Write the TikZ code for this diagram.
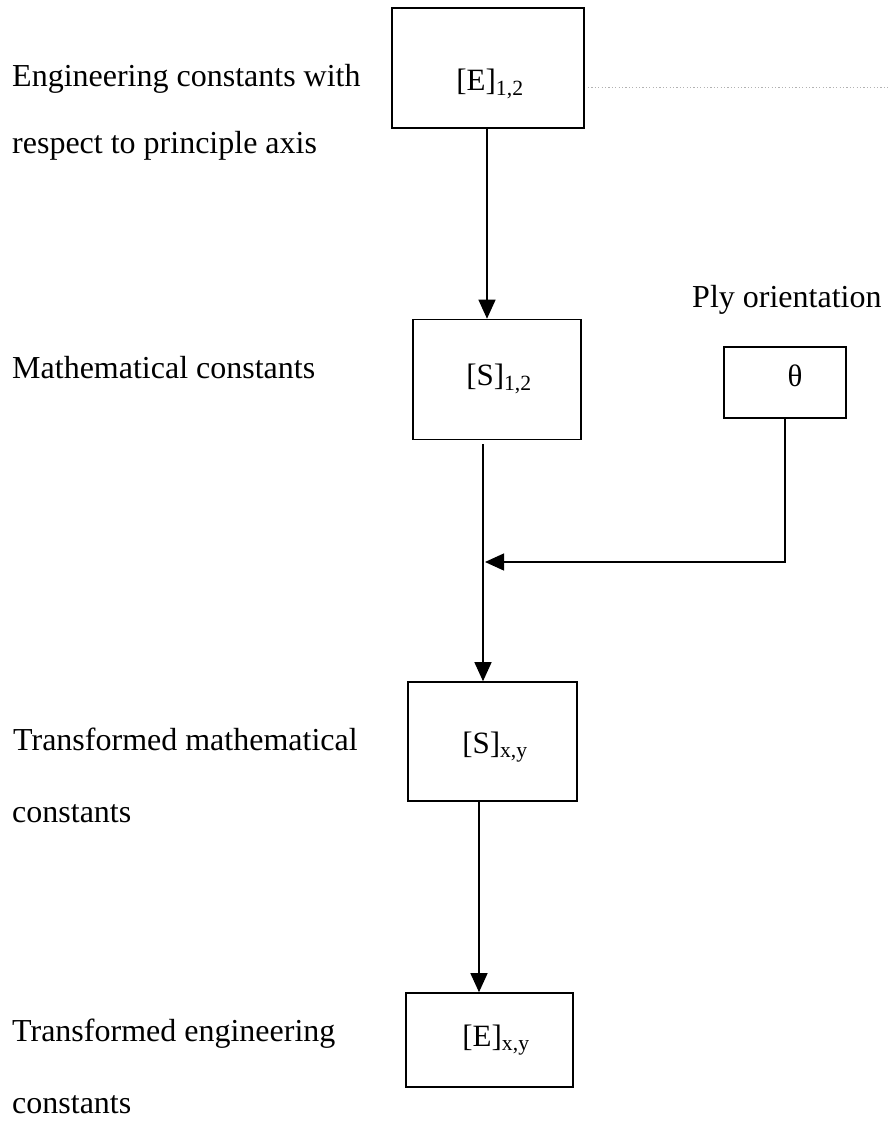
\documentclass[tikz,border=0pt]{standalone}
\usepackage{fontspec}
\setmainfont{Liberation Serif}
\usetikzlibrary{arrows.meta}
\begin{document}
\begin{tikzpicture}[x=1pt,y=-1pt,
  box/.style={draw,line width=1.6pt,inner sep=0pt},
  lbl/.style={anchor=base west,inner sep=0pt,font=\fontsize{32}{38}\selectfont},
  btxt/.style={inner sep=0pt,font=\fontsize{31}{36}\selectfont},
  conn/.style={line width=1.3pt},
  arr/.style={conn,-{Triangle[length=19pt,width=17pt]}}]
\useasboundingbox[fill=white] (0,0) rectangle (888,1124);
% boxes
\node[box,minimum width=192pt,minimum height=120pt] (E12) at (488,68) {};
\node[btxt] (E12t) at (490,84) {[E]\textsubscript{1,2}};
\node[box,minimum width=168pt,minimum height=120pt] (S12) at (497,379.5) {};
\node[btxt] (S12t) at (499,379) {[S]\textsubscript{1,2}};
\node[box,minimum width=122pt,minimum height=71pt] (th) at (785,382.5) {};
\node[btxt] (tht) at (795,376) {θ};
\node[box,minimum width=169pt,minimum height=119pt] (Sxy) at (492.5,741.5) {};
\node[btxt] (Sxyt) at (495,747) {[S]\textsubscript{x,y}};
\node[box,minimum width=167pt,minimum height=94pt] (Exy) at (489.5,1040) {};
\node[btxt] (Exyt) at (496,1040) {[E]\textsubscript{x,y}};
% labels
\node[lbl] (l1) at (12,86) {Engineering constants with};
\node[lbl] (l2) at (12,153) {respect to principle axis};
\node[lbl] (l3) at (12,378) {Mathematical constants};
\node[lbl] (l4) at (692,307) {Ply orientation};
\node[lbl] (l5) at (13,750) {Transformed mathematical};
\node[lbl] (l6) at (12,822) {constants};
\node[lbl] (l7) at (12,1041) {Transformed engineering};
\node[lbl] (l8) at (12,1113) {constants};
% helper coordinates
\coordinate (xa) at (487,0);
\coordinate (xb) at (483,0);
\coordinate (xc) at (479,0);
\coordinate (merge) at (485,562);
\coordinate (dotend) at (888,87);
\coordinate (dotstart) at (588,87);
% connectors
\draw[arr] (E12.south -| xa) -- (S12.north -| xa);
\draw[arr] ([yshift=-4pt]S12.south -| xb) -- (Sxy.north -| xb);
\draw[arr] (th.south) |- (merge);
\draw[arr] (Sxy.south -| xc) -- (Exy.north -| xc);
\draw[gray!60,line width=0.8pt,dash pattern=on 1.2pt off 2.2pt] (dotstart) -- (dotend);
\end{tikzpicture}
\end{document}
